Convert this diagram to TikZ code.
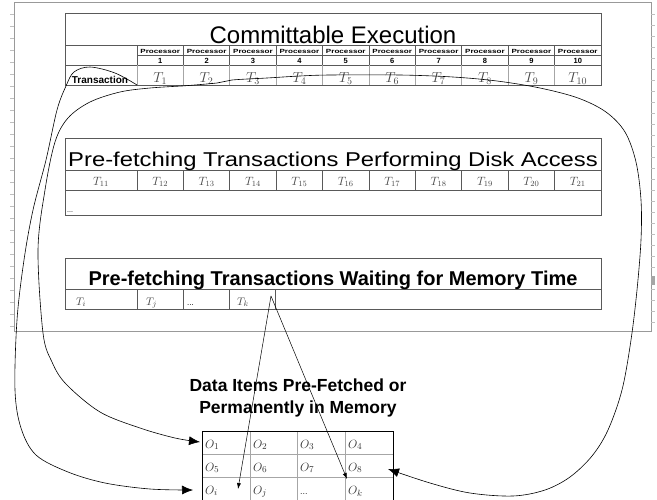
\documentclass[tikz,border=0pt]{standalone}
\usepackage{fontspec}
\setmainfont{Liberation Sans}
\usetikzlibrary{arrows.meta}
\tikzset{
  frameline/.style={draw=black!40, line width=0.9pt},
  tabline/.style={draw=black!65, line width=0.9pt},
  cellline/.style={draw=black!35, line width=0.7pt},
  tcell/.style={text=black!72, inner sep=0pt, anchor=base},
  ocell/.style={text=black!80, inner sep=0pt, anchor=base west, font=\fontsize{13}{13}\selectfont},
  conn/.style={draw=black, line width=0.6pt},
  bigarrow/.style={-{Latex[length=11pt,width=9pt]}},
  smallarrow/.style={-{Latex[length=6pt,width=4pt]}},
}
\begin{document}
\begin{tikzpicture}[x=1pt,y=-1pt]
\useasboundingbox (0,0) rectangle (657,499);
\clip (0,0) rectangle (657,499);
% outer frame
\draw[frameline] (14,2) rectangle (651,331);
\foreach \y in {14,26,...,326} \draw[black!25, line width=0.5pt] (10,\y) -- (14,\y);
\foreach \y in {14,25,...,326} \draw[black!25, line width=0.5pt] (651,\y) -- (655,\y);
\fill[black!35] (651,276) rectangle (655,285);

% ===== Committable Execution table =====
\draw[tabline] (65,13) rectangle (601,85);
\draw[tabline] (65,45) -- (601,45);
\draw[tabline] (137,55) -- (601,55);
\draw[tabline] (65,65) -- (601,65);
\foreach \i in {0,...,9} {
  \draw[tabline] ({137+46.4*\i},45) -- ({137+46.4*\i},65);
  \draw[cellline] ({137+46.4*\i},65) -- ({137+46.4*\i},85);
}
\node[anchor=base, inner sep=0pt, font=\fontsize{24}{24}\selectfont] (ce) at (333,43) {Committable Execution};
\node[anchor=base, inner sep=0pt, font=\fontsize{10}{10}\selectfont\bfseries] (trans) at (100,83) {Transaction};
\foreach \i in {1,...,10} {
  \node[anchor=base, inner sep=0pt, font=\fontsize{6}{6}\selectfont\bfseries] (p\i) at ({113.8+46.4*\i},53) {\scalebox{1.35}[1]{Processor}};
  \node[anchor=base, inner sep=0pt, font=\fontsize{7.5}{7.5}\selectfont\bfseries] (n\i) at ({113.8+46.4*\i},63) {\i};
  \node[tcell, font=\fontsize{14}{14}\selectfont] (t\i) at ({113.8+46.4*\i},82) {$T_{\i}$};
}

% ===== Disk access table =====
\draw[tabline] (65,138) rectangle (601,215);
\draw[tabline] (65,170) -- (601,170);
\draw[tabline] (65,190) -- (601,190);
\foreach \i in {0,...,9} \draw[tabline] ({137+46.4*\i},170) -- ({137+46.4*\i},190);
\node[anchor=base, inner sep=0pt, font=\fontsize{20}{20}\selectfont] (pd) at (333,166) {\scalebox{1.19}[1]{Pre-fetching Transactions Performing Disk Access}};
\node[tcell, font=\fontsize{12}{12}\selectfont] (t11) at (101,185) {$T_{11}$};
\foreach \i in {1,...,10} {
  \pgfmathtruncatemacro{\n}{\i+11}
  \node[tcell, font=\fontsize{12}{12}\selectfont] (t\n) at ({113.8+46.4*\i},185) {$T_{\n}$};
}
\node[anchor=base west, inner sep=0pt, font=\fontsize{7}{7}\selectfont] (dots1) at (67,212) {...};

% ===== Waiting for memory table =====
\draw[tabline] (65,258) rectangle (601,309);
\draw[tabline] (65,289) -- (601,289);
\foreach \x in {137,183,229,275} \draw[tabline] (\x,289) -- (\x,309);
\node[anchor=base, inner sep=0pt, font=\fontsize{20}{20}\selectfont\bfseries] (pw) at (333,285) {Pre-fetching Transactions Waiting for Memory Time};
\node[tcell, anchor=base west, font=\fontsize{11}{11}\selectfont] (ti) at (76,305) {$T_{i}$};
\node[tcell, anchor=base west, font=\fontsize{11}{11}\selectfont] (tj) at (146,305) {$T_{j}$};
\node[anchor=base west, inner sep=0pt, font=\fontsize{8}{8}\selectfont] (dots2) at (187,305) {...};
\node[tcell, anchor=base west, font=\fontsize{11}{11}\selectfont] (tk) at (237,305) {$T_{k}$};

% ===== Data items =====
\node[align=center, inner sep=0pt, font=\fontsize{17.5}{22}\selectfont\bfseries, anchor=base] (dlabel) at (298,413) {Data Items Pre-Fetched or\\Permanently in Memory};
\foreach \y in {454,477} \draw[cellline] (202,\y) -- (393,\y);
\foreach \x in {250,297,345} \draw[cellline] (\x,431) -- (\x,505);
\draw[tabline, draw=black] (202,505) -- (202,431) -- (393,431) -- (393,505);
\node[ocell] (o1) at (205,448) {$O_1$};
\node[ocell] (o2) at (253,448) {$O_2$};
\node[ocell] (o3) at (300,448) {$O_3$};
\node[ocell] (o4) at (348,448) {$O_4$};
\node[ocell] (o5) at (205,471) {$O_5$};
\node[ocell] (o6) at (253,471) {$O_6$};
\node[ocell] (o7) at (300,471) {$O_7$};
\node[ocell] (o8) at (348,471) {$O_8$};
\node[ocell] (oi) at (205,494) {$O_i$};
\node[ocell] (oj) at (253,494) {$O_j$};
\node[ocell, font=\fontsize{9}{9}\selectfont] (odots) at (300,494) {...};
\node[ocell] (ok) at (348,494) {$O_k$};

% ===== connectors =====
\coordinate (transSE) at (137,85);
\coordinate (tjoin) at (182,86);
\coordinate (tkstart) at (271,296);
\coordinate (inO1) at (200,442);
\coordinate (inOi) at (193,490);
\coordinate (inO8) at (388,469);
\coordinate (inOiTop) at (238,489);
\coordinate (inOk) at (347,479);

\draw[conn, bigarrow] plot[smooth, tension=0.55] coordinates {
 (transSE) (115,73) (90,67) (74,72) (66,86) (57,110) (46,160) (33,210) (24,260)
 (17,320) (15,390) (21,428) (36,455) (68,472) (105,483) (150,489) (inOi)};
\draw[conn, bigarrow] plot[smooth, tension=0.55] coordinates {
 (tjoin) (150,88) (120,92) (90,102) (68,118) (55,142) (45,190) (38,250) (43,333)
 (52,362) (66,384) (100,412) (140,428) (175,438) (inO1)};
\draw[conn, bigarrow] plot[smooth, tension=0.55] coordinates {
 (tjoin) (217,83) (232,80) (267,78) (300,76) (330,75) (400,75) (453,77) (497,81)
 (540,88) (578,98) (606,112) (625,132) (636,162) (641,200) (641,240) (637,290)
 (631,340) (622,390) (608,430) (592,456) (570,477) (545,490) (513,496) (470,493)
 (430,483) (inO8)};
\draw[conn, line width=0.5pt, smallarrow] (tkstart) -- (inOiTop);
\draw[conn, line width=0.5pt, smallarrow] (tkstart) -- (inOk);
\end{tikzpicture}
\end{document}
